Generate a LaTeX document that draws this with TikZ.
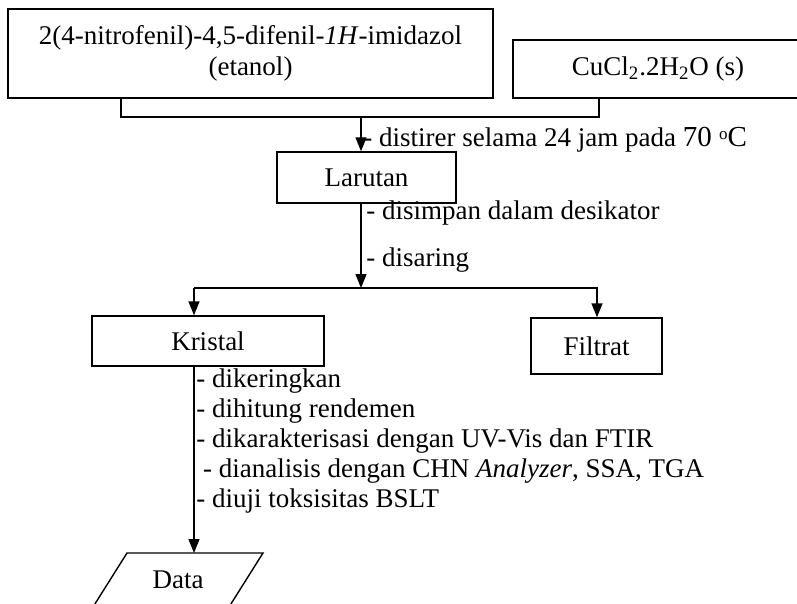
\documentclass[tikz,border=0pt]{standalone}
\usepackage{fontspec}
\setmainfont{Liberation Serif}
\usetikzlibrary{positioning, arrows.meta, calc}

\begin{document}
\begin{tikzpicture}[
    x=0.5pt, y=-0.5pt,
    box/.style={rectangle, draw=black, line width=0.7pt, fill=white, align=center, inner sep=0pt, font=\fontsize{13.5}{15.5}\selectfont},
    note/.style={anchor=west, inner sep=0pt, align=left, font=\fontsize{13.5}{15}\selectfont},
    line/.style={draw=black, line width=0.7pt},
    arrow/.style={-{Triangle[length=7pt, width=5.5pt]}, draw=black, line width=0.7pt}
]
    \useasboundingbox (0,0) rectangle (797,604);

    % Starting Materials
    \node (ligan) at (250.5,53.5) [box, minimum width=242.5pt, minimum height=44.5pt] {
        2(4-nitrofenil)-4,5-difenil-\textit{1H}-imidazol\\
        (etanol)
    };
    \node (garam) at (658,69) [box, minimum width=145pt, minimum height=29pt] {CuCl\textsubscript{2}.2H\textsubscript{2}O (s)};

    % Intermediate and Products
    \node (larutan) at (366.5,177.5) [box, minimum width=89.5pt, minimum height=25.5pt] {Larutan};
    \node (kristal) at (208,341) [box, minimum width=116pt, minimum height=25pt] {Kristal};
    \node (filtrat) at (596.5,346) [box, minimum width=65.5pt, minimum height=28pt] {Filtrat};

    % Data Output
    \node (data) at (178,580) [inner sep=0pt, font=\fontsize{13.5}{15}\selectfont] {Data};
    \draw [line] (127,553) -- (263,553) -- (229,607) -- (93,607) -- cycle;

    % Junction Points
    \coordinate (j1) at (361,117);
    \coordinate (j2) at (361,288);
    \coordinate (k1) at (194,288);
    \coordinate (d1) at (194,553);

    % Top Convergence Connectors
    \draw [line] (ligan.south -| 121,0) |- (j1) -| (garam.south -| 599,0);
    \draw [arrow] (j1) -- (j1 |- larutan.north);

    % Filtering Split
    \draw [arrow] (j1 |- larutan.south) -- (j2);
    \draw [line] (k1) -- (j2);
    \draw [arrow] (j2) -| (filtrat.north -| 597,0);
    \draw [arrow] (k1) -- (k1 |- kristal.north);
    \draw [arrow] (k1 |- kristal.south) -- (d1);

    % Process Notes
    \node (n1) at (363,140) [note] {- distirer selama 24 jam pada {\fontsize{14.5}{15}\selectfont 70 \raisebox{0.55ex}{\fontsize{8.5}{8.5}\selectfont o}C}};
    \node (n2) at (366,213) [note] {- disimpan dalam desikator};
    \node (n3) at (366,260) [note] {- disaring};
    \node (n4) at (196,441) [note] {
        - dikeringkan\\
        - dihitung rendemen\\
        - dikarakterisasi dengan UV-Vis dan FTIR\\
        \hspace{0.25em}- dianalisis dengan CHN \textit{Analyzer}, SSA, TGA\\
        - diuji toksisitas BSLT
    };

\end{tikzpicture}
\end{document}
